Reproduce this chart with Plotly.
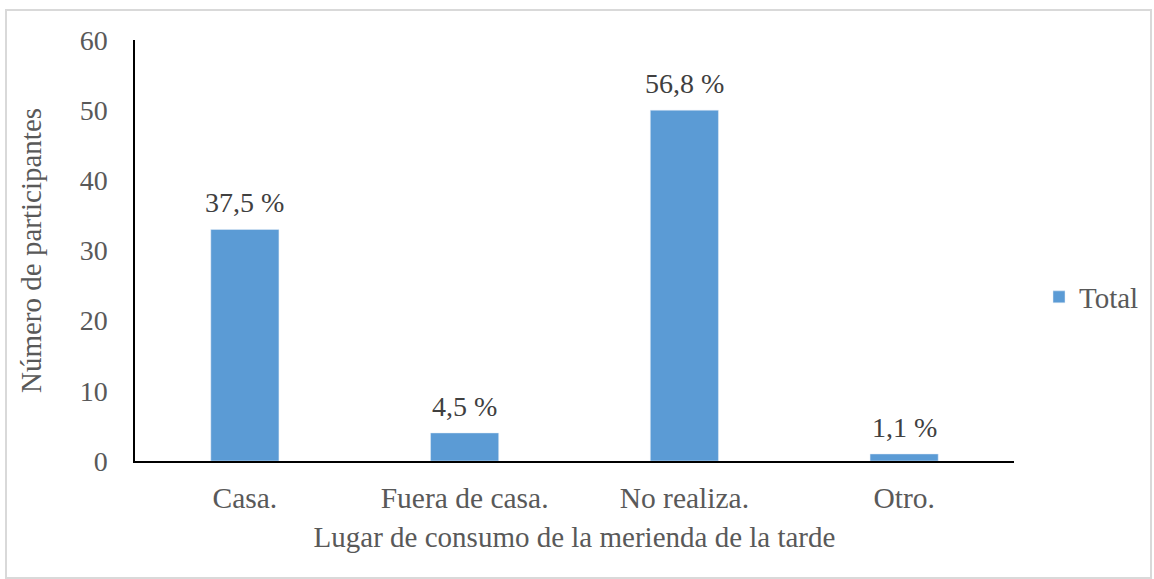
import plotly.graph_objects as go

categories = ["Casa.", "Fuera de casa.", "No realiza.", "Otro."]
values = [33, 4, 50, 1]
labels = ["37,5 %", "4,5 %", "56,8 %", "1,1 %"]

L, R, T, B = 135, 140, 40, 118
W, H = 1154, 579
pw = W - L - R
ph = H - T - B

def px(x):
    return (x - L) / pw

def py(y):
    return (H - B - y) / ph

FONT = "Liberation Serif"
GREY = "#595959"

fig = go.Figure()
fig.add_trace(go.Bar(
    x=categories, y=values, name="Total",
    marker=dict(color="#5B9BD5"),
    showlegend=True,
))

for c, v, t in zip(categories, values, labels):
    fig.add_annotation(
        x=c, y=v, text=t, showarrow=False,
        xanchor="center", yanchor="bottom", yshift=9,
        font=dict(family=FONT, size=28, color="#404040"),
    )

fig.update_layout(
    width=W, height=H,
    margin=dict(l=L, r=R, t=T, b=B, autoexpand=False),
    paper_bgcolor="white", plot_bgcolor="white",
    bargap=0.69,
    font=dict(family=FONT, color=GREY, size=28),
    xaxis=dict(
        showline=True, linecolor="black", linewidth=2,
        ticks="", tickfont=dict(size=29.5, color=GREY),
        ticklabelstandoff=10,
        title=dict(text="Lugar de consumo de la merienda de la tarde",
                   font=dict(size=29, color=GREY), standoff=13),
    ),
    yaxis=dict(
        range=[0, 60], dtick=10, showgrid=False, zeroline=False,
        showline=True, linecolor="black", linewidth=1.5,
        ticks="", tickfont=dict(size=28, color=GREY),
        ticklabelstandoff=20,
        title=dict(text="Número de participantes",
                   font=dict(size=29, color=GREY), standoff=30),
    ),
    legend=dict(x=px(1039), y=py(297), xanchor="left", yanchor="middle",
                bgcolor="rgba(0,0,0,0)",
                font=dict(size=29, color=GREY), itemwidth=30),
    shapes=[dict(type="rect", xref="paper", yref="paper",
                 x0=px(6), x1=px(1151), y0=py(578), y1=py(10),
                 line=dict(color="#D9D9D9", width=2), layer="below")],
)

fig.write_html(
    "out.html",
    config={"displayModeBar": False},
    post_script="document.body.style.margin='0';document.body.style.overflow='hidden';",
)
